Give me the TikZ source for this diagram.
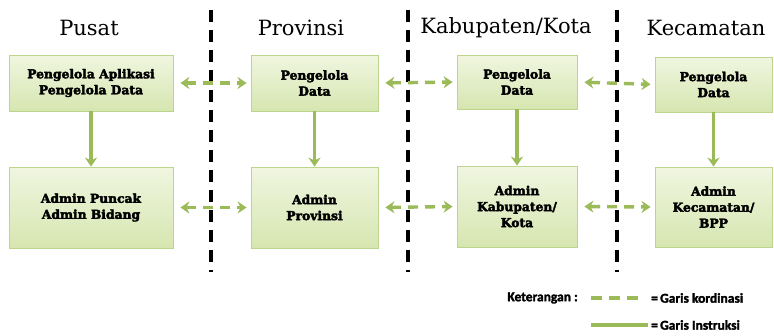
\documentclass[tikz,border=0pt]{standalone}
\usepackage{fontspec}
\setmainfont{DejaVu Serif}
\newfontfamily\boxfont[FakeBold=3]{DejaVu Serif Bold}
\newfontfamily\legfont[FakeBold=2]{Carlito Bold}
\usetikzlibrary{arrows.meta,shadows}
\definecolor{og}{HTML}{9BBB59}
\definecolor{boxtop}{HTML}{F0F6E0}
\definecolor{boxbot}{HTML}{D6E6B0}
\definecolor{boxline}{HTML}{BDD48E}
\tikzset{
  unit/.style={draw=boxline, line width=0.8pt, top color=boxtop, bottom color=boxbot,
    minimum height=#1, align=center, inner sep=0pt,
    font=\boxfont\fontsize{12.3}{16}\selectfont,
    drop shadow={shadow xshift=1.2pt, shadow yshift=-1.2pt, fill=black!25, opacity=0.5}},
  koord/.style={draw=og, line width=3.4pt, dash pattern=on 10pt off 7pt,
    {Stealth[length=9pt,width=12pt]}-{Stealth[length=9pt,width=12pt]}, shorten <=7pt, shorten >=4pt},
  instr/.style={draw=og, line width=3.4pt, -{Stealth[length=9pt,width=12pt]}},
  divider/.style={draw=black, line width=3.4pt, dash pattern=on 12pt off 8pt},
  header/.style={font=\fontsize{21}{24}\selectfont},
  leg/.style={font=\legfont\fontsize{13.5}{15}\selectfont, inner sep=0pt}
}
\begin{document}
\begin{tikzpicture}[x=1pt,y=-1pt]
\useasboundingbox (0,0) rectangle (774,335);
% headers
\node[header] (hp) at (89,28) {Pusat};
\node[header] (hv) at (301,28) {Provinsi};
\node[header] (hk) at (506,28) {Kabupaten/Kota};
\node[header] (hc) at (706,28) {Kecamatan};
% dividers
\coordinate (d1a) at (211,10); \coordinate (d1b) at (211,272);
\coordinate (d2a) at (408,10); \coordinate (d2b) at (408,272);
\coordinate (d3a) at (617,10); \coordinate (d3b) at (617,272);
\draw[divider] (d1a) -- (d1b);
\draw[divider] (d2a) -- (d2b);
\draw[divider] (d3a) -- (d3b);
% top row
\node[unit=56pt, minimum width=164pt] (p1) at (91,83) {Pengelola Aplikasi\\Pengelola Data};
\node[unit=56pt, minimum width=127pt] (v1) at (314.5,83) {Pengelola\\Data};
\node[unit=54pt, minimum width=120pt] (k1) at (517,82) {Pengelola\\Data};
\node[unit=55pt, minimum width=117pt] (c1) at (713.5,84.5) {Pengelola\\Data};
% bottom row
\node[unit=81pt, minimum width=164pt] (p2) at (91,207.5) {Admin Puncak\\Admin Bidang};
\node[unit=81pt, minimum width=127pt] (v2) at (314.5,207.5) {Admin\\Provinsi};
\node[unit=81pt, minimum width=120pt] (k2) at (517,206.5) {Admin\\Kabupaten/\\Kota};
\node[unit=80pt, minimum width=117pt] (c2) at (713.5,207) {Admin\\Kecamatan/\\BPP};
% instruction arrows
\draw[instr] (p1) -- (p2);
\draw[instr] (v1) -- (v2);
\draw[instr] (k1) -- (k2);
\draw[instr] (c1) -- (c2);
% coordination arrows
\draw[koord] (p1.east) -- (v1.west);
\draw[koord] (v1.east) -- (k1.west);
\draw[koord] (k1.east) -- (c1.west);
\draw[koord] (p2.east) -- (v2.west);
\draw[koord] (v2.east) -- (k2.west);
\draw[koord] (k2.east) -- (c2.west);
% legend
\node[leg, anchor=east] (lk) at (578,298) {Keterangan :};
\coordinate (l1a) at (591,298); \coordinate (l1b) at (645,298);
\draw[draw=og, line width=3.4pt, dash pattern=on 11pt off 7pt] (l1a) -- (l1b);
\node[leg, anchor=west] (lt1) at (651,298) {=\,Garis kordinasi};
\coordinate (l2a) at (591,325); \coordinate (l2b) at (648,325);
\draw[draw=og, line width=3.4pt] (l2a) -- (l2b);
\node[leg, anchor=west] (lt2) at (651,325) {=\,Garis Instruksi};
\end{tikzpicture}
\end{document}
